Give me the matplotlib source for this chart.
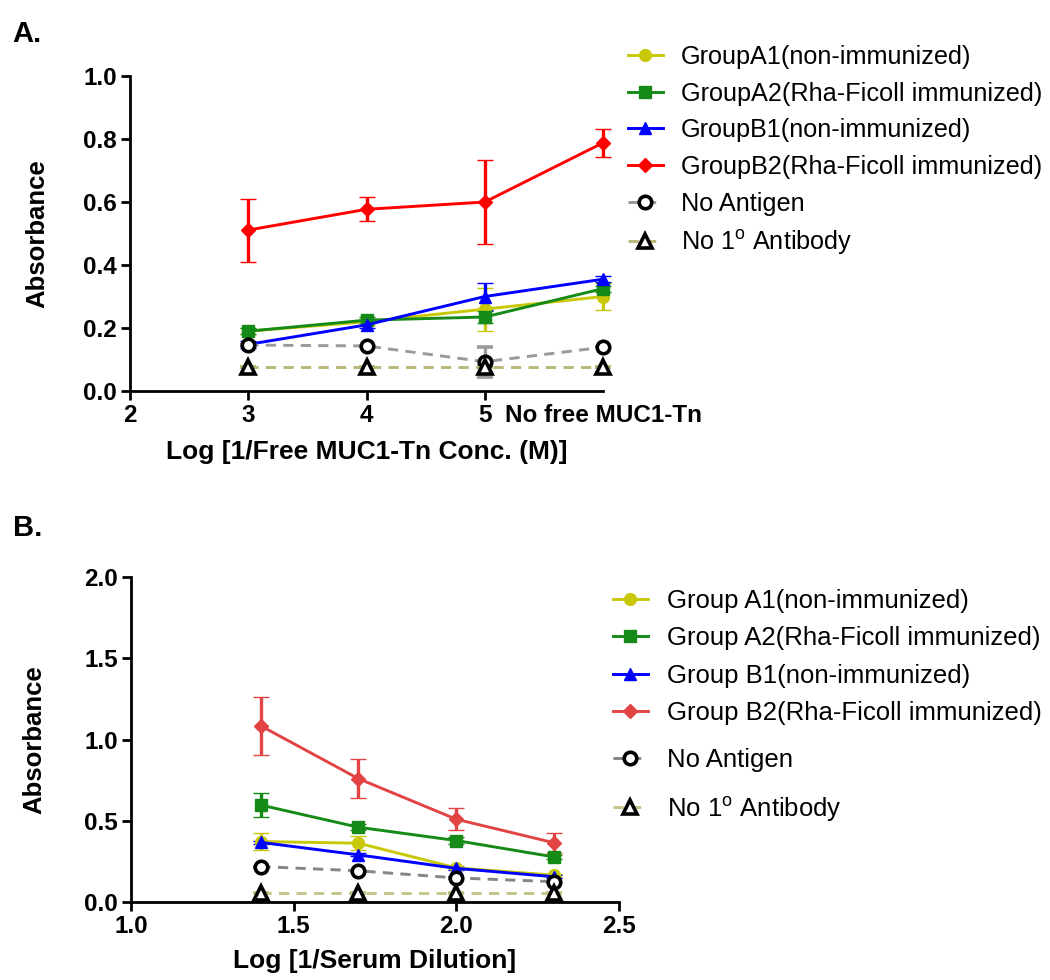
import numpy as np
import matplotlib
matplotlib.use('Agg')
import matplotlib.pyplot as plt

plt.rcParams['font.family'] = ['Liberation Sans', 'DejaVu Sans']
plt.rcParams['mathtext.default'] = 'regular'

# ------------------------------------------------------------------
# Panel A data: competition with free MUC1-Tn
# ------------------------------------------------------------------
conc_x = [3, 4, 5, 6]
conc_ticks = [2, 3, 4, 5, 6]
conc_ticklabels = ["2", "3", "4", "5", "No free MUC1-Tn"]

a_A1 = [0.19, 0.22, 0.26, 0.30]
a_A1_err = [0.01, 0.01, 0.068, 0.042]
a_A2 = [0.19, 0.225, 0.235, 0.325]
a_A2_err = [0.01, 0.01, 0.02, 0.01]
a_B1 = [0.148, 0.21, 0.30, 0.355]
a_B1_err = [0.01, 0.01, 0.042, 0.01]
a_B2 = [0.511, 0.577, 0.60, 0.788]
a_B2_err = [0.10, 0.038, 0.134, 0.045]
a_noag = [0.146, 0.143, 0.093, 0.139]
a_noag_err = [0.0, 0.0, 0.048, 0.0]
a_noab = [0.076, 0.076, 0.076, 0.076]

labels_a = ["GroupA1(non-immunized)", "GroupA2(Rha-Ficoll immunized)",
            "GroupB1(non-immunized)", "GroupB2(Rha-Ficoll immunized)",
            "No Antigen", "No 1$^{o}$ Antibody"]

# ------------------------------------------------------------------
# Panel B data: serum dilution
# ------------------------------------------------------------------
dil_x = [1.398, 1.699, 2.0, 2.301]

b_A1 = [0.372, 0.362, 0.21, 0.165]
b_A1_err = [0.05, 0.044, 0.01, 0.01]
b_A2 = [0.597, 0.46, 0.378, 0.277]
b_A2_err = [0.072, 0.02, 0.02, 0.015]
b_B1 = [0.367, 0.29, 0.207, 0.155]
b_B1_err = [0.01, 0.01, 0.01, 0.01]
b_B2 = [1.085, 0.759, 0.509, 0.364]
b_B2_err = [0.178, 0.12, 0.067, 0.063]
b_noag = [0.218, 0.192, 0.148, 0.125]
b_noab = [0.053, 0.053, 0.053, 0.053]

labels_b = ["Group A1(non-immunized)", "Group A2(Rha-Ficoll immunized)",
            "Group B1(non-immunized)", "Group B2(Rha-Ficoll immunized)",
            "No Antigen", "No 1$^{o}$ Antibody"]

LW = 2.1
CAP = 5.5
DASH = (0, (3.5, 2.5))


def draw(ax, x, y, err, color, marker, ms, ls="-", mfc=None, mec=None,
         mew=1.0):
    if err is None:
        err = [0.0] * len(x)
    h = ax.errorbar(x, y, yerr=err, color=color, ecolor=color, ls=ls,
                    lw=LW, marker=marker, ms=ms,
                    mfc=mfc if mfc is not None else color,
                    mec=mec if mec is not None else color, mew=mew,
                    capsize=CAP, capthick=2.6, elinewidth=2.4,
                    clip_on=False)
    # only the data line (no error bars) goes into the legend
    return h[0]


def style_axes(ax):
    for s in ["top", "right"]:
        ax.spines[s].set_visible(False)
    for s in ["left", "bottom"]:
        ax.spines[s].set_linewidth(2.0)
    ax.tick_params(direction="out", length=6.5, width=2.0, labelsize=17.5,
                   pad=3)
    for t in ax.get_xticklabels() + ax.get_yticklabels():
        t.set_fontweight("bold")


fig = plt.figure(figsize=(10.5, 9.8), dpi=100)

# ------------------------------------------------------------------
# Panel A
# ------------------------------------------------------------------
axA = fig.add_axes([0.1238, 0.601, 0.4505, 0.3214])
hA = []
hA.append(draw(axA, conc_x, a_A1, a_A1_err, "#c8c808", "o", 8.5))
hA.append(draw(axA, conc_x, a_A2, a_A2_err, "#168a16", "s", 8))
hA.append(draw(axA, conc_x, a_B1, a_B1_err, "#0000ff", "^", 9))
hA.append(draw(axA, conc_x, a_B2, a_B2_err, "#ff0000", "D", 7.5))
hA.append(draw(axA, conc_x, a_noag, a_noag_err, "#9a9a9a", "o", 9, ls=DASH,
               mfc="white", mec="black", mew=2.6))
hA.append(draw(axA, conc_x, a_noab, None, "#b8b878", "^", 9.5, ls=DASH,
               mfc="white", mec="black", mew=2.6))

axA.set_xlim(2, 6)
axA.set_ylim(0, 1.0)
axA.set_xticks(conc_ticks)
axA.set_xticklabels(conc_ticklabels)
axA.set_yticks([0.0, 0.2, 0.4, 0.6, 0.8, 1.0])
axA.set_yticklabels(["0.0", "0.2", "0.4", "0.6", "0.8", "1.0"])
style_axes(axA)
axA.xaxis.get_major_ticks()[-1].tick1line.set_visible(False)
axA.set_xlabel("Log [1/Free MUC1-Tn Conc. (M)]", fontsize=19,
               fontweight="bold", labelpad=9)
axA.set_ylabel("Absorbance", fontsize=18.5, fontweight="bold", labelpad=24)

axA.legend(hA, labels_a, loc="upper left",
           bbox_to_anchor=(628 / 1050, 1 - 45 / 980),
           bbox_transform=fig.transFigure, frameon=False,
           fontsize=18.2, handlelength=1.37, handletextpad=0.72,
           labelspacing=0.5, borderpad=0, borderaxespad=0,
           numpoints=1)

fig.text(0.012, 1 - 34 / 980, "A.", fontsize=21, fontweight="bold",
         va="center", ha="left")

# ------------------------------------------------------------------
# Panel B
# ------------------------------------------------------------------
axB = fig.add_axes([0.1248, 0.0796, 0.4648, 0.3316])
hB = []
hB.append(draw(axB, dil_x, b_A1, b_A1_err, "#c8c808", "o", 8.5))
hB.append(draw(axB, dil_x, b_A2, b_A2_err, "#168a16", "s", 8))
hB.append(draw(axB, dil_x, b_B1, b_B1_err, "#0000ff", "^", 9))
hB.append(draw(axB, dil_x, b_B2, b_B2_err, "#e24444", "D", 7.5))
hB.append(draw(axB, dil_x, b_noag, None, "#858585", "o", 9, ls=DASH,
               mfc="white", mec="black", mew=2.6))
hB.append(draw(axB, dil_x, b_noab, None, "#c4c488", "^", 9.5, ls=DASH,
               mfc="white", mec="black", mew=2.6))

axB.set_xlim(1.0, 2.5)
axB.set_ylim(0, 2.0)
axB.set_xticks([1.0, 1.5, 2.0, 2.5])
axB.set_xticklabels(["1.0", "1.5", "2.0", "2.5"])
axB.set_yticks([0.0, 0.5, 1.0, 1.5, 2.0])
axB.set_yticklabels(["0.0", "0.5", "1.0", "1.5", "2.0"])
style_axes(axB)
axB.set_xlabel("Log [1/Serum Dilution]", fontsize=19, fontweight="bold",
               labelpad=8)
axB.set_ylabel("Absorbance", fontsize=18.5, fontweight="bold", labelpad=27)

legB1 = axB.legend(hB[:4], labels_b[:4], loc="upper left",
                   bbox_to_anchor=(613 / 1050, 1 - 589 / 980),
                   bbox_transform=fig.transFigure, frameon=False,
                   fontsize=18.5, handlelength=1.35, handletextpad=0.75,
                   labelspacing=0.52, borderpad=0, borderaxespad=0,
                   numpoints=1)
axB.add_artist(legB1)
axB.legend(hB[4:], labels_b[4:], loc="upper left",
           bbox_to_anchor=(613 / 1050, 1 - 748 / 980),
           bbox_transform=fig.transFigure, frameon=False,
           fontsize=18.5, handlelength=1.35, handletextpad=0.75,
           labelspacing=0.88, borderpad=0, borderaxespad=0, numpoints=1)

fig.text(0.012, 1 - 528 / 980, "B.", fontsize=21, fontweight="bold",
         va="center", ha="left")

fig.savefig("out.png", dpi=100)
